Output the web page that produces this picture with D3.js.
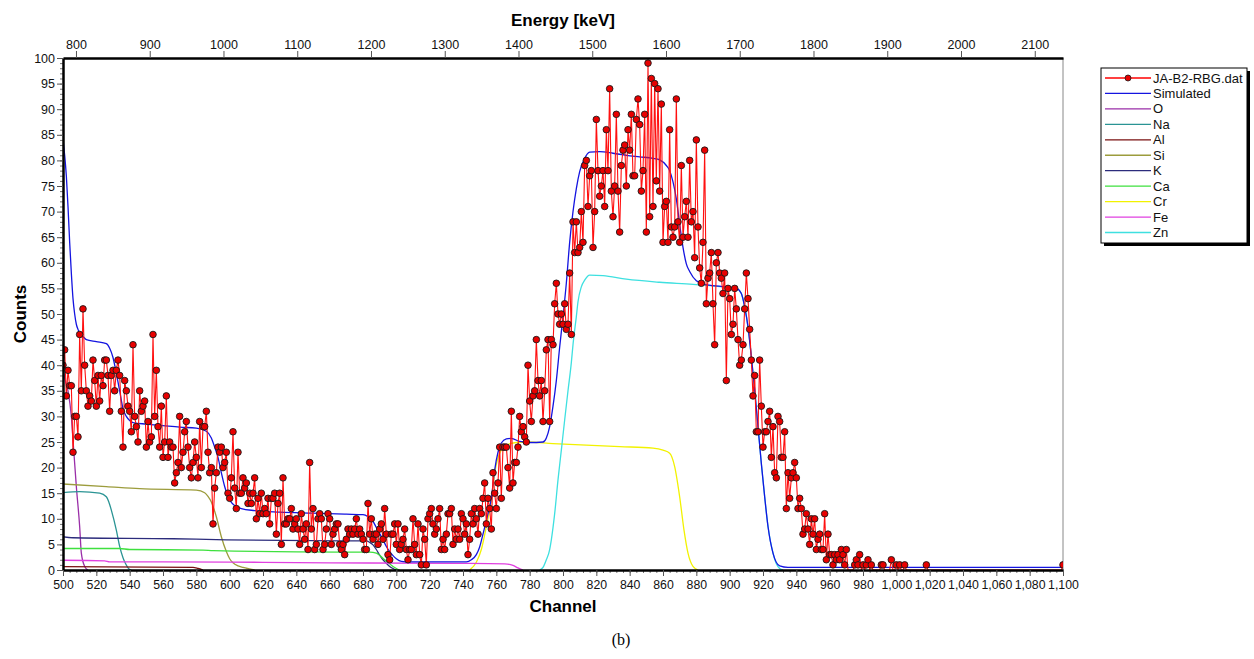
<html lang="en">
<head>
<meta charset="UTF-8">
<title>Spectrum</title>
<script src="https://cdn.jsdelivr.net/npm/d3@7/dist/d3.min.js"></script>
<style>
  body { margin: 0; background: #fff; }
  text { font-family: "Liberation Sans", Arial, sans-serif; }
</style>
</head>
<body>
<script>
// measured counts, one value per channel starting at channel 500
const firstChannel = 500
const counts = [
  40, 43, 34, 39, 36, 36, 23, 30, 30, 26, 46, 35, 51, 40, 35, 32, 34, 33, 41, 37,
  32, 38, 33, 38, 36, 41, 41, 38, 31, 38, 39, 35, 39, 41, 38, 31, 24, 37, 35, 32,
  31, 27, 44, 30, 28, 25, 35, 31, 32, 33, 24, 29, 25, 26, 46, 30, 39, 28, 24, 32,
  22, 25, 34, 22, 25, 24, 24, 17, 19, 21, 30, 20, 23, 27, 29, 24, 20, 18, 21, 25,
  22, 18, 29, 20, 28, 28, 31, 23, 19, 20, 9, 16, 19, 24, 23, 24, 20, 21, 23, 15,
  14, 18, 27, 16, 12, 23, 15, 15, 18, 16, 17, 13, 15, 13, 15, 18, 10, 14, 11, 15,
  11, 12, 11, 14, 9, 14, 14, 15, 7, 13, 15, 5, 18, 9, 9, 10, 10, 12, 8, 9,
  10, 8, 5, 11, 8, 6, 9, 4, 21, 8, 12, 4, 5, 10, 11, 10, 4, 5, 8, 11,
  10, 5, 7, 8, 9,
  // 665
  9, 5, 4, 5, 3, 6, 8, 7, 8, 7, 8, 10, 7, 8, 7, 6, 4, 4, 13, 7,
  10, 6, 7, 7, 5, 8, 9, 6, 12, 7, 3, 2, 7, 7, 9, 5, 9, 4, 5, 6,
  8, 4, 2, 4, 4, 10, 5, 3, 9, 3, 1, 8, 6, 1, 10, 11, 12, 9, 7, 8,
  10, 12, 4, 6, 4, 7, 11, 11, 12, 5, 8, 6, 8, 6, 11, 10, 7, 9, 3,
  // 744
  6, 11, 9, 12, 10, 7, 12, 11, 14, 17, 9, 14, 12, 8, 19, 15, 12, 17, 24, 14,
  24, 24, 24, 20, 16, 31, 17, 21, 21, 24, 30, 27, 28, 26, 25, 40, 33, 29, 34, 35,
  45, 37, 34, 37, 29, 35, 43, 45, 29, 45, 44, 52, 56, 50, 48, 50, 48, 52, 47, 48,
  58, 46,
  // 806
  68, 62, 68, 62, 63, 70, 64, 79, 80, 71, 77, 78, 63, 70, 88, 78, 73, 75, 78, 71,
  86, 78, 94, 74, 69, 75, 89, 74, 66, 79, 82, 83, 75, 86, 82, 89, 77, 77, 88, 92,
  87, 74, 78, 89, 66, 99, 69, 96, 71, 95, 76, 94, 74, 91, 64, 71, 72, 64, 86, 67,
  65, 67, 92, 68, 64, 79, 65, 69, 72, 65, 80, 68, 70, 61, 84, 67,
  // 882
  59, 56, 64, 82, 52, 57, 58, 62, 52, 44, 60, 62, 58, 57, 54, 58, 37, 55, 53, 46,
  48, 55, 51, 45, 40, 41, 44, 51, 58, 53, 47, 41, 34, 38, 27, 27, 41, 32, 24, 27,
  27, 29, 31, 22, 28, 19, 18, 30, 29, 22, 22, 27, 12, 19, 14, 18, 19, 21, 18, 12,
  14, 12, 7, 8, 11, 8, 5, 10, 7, 10, 4, 6, 7, 4, 4, 11, 2, 7, 3, 3,
  1, 3, 2, 3, 2, 4, 3, 1, 4,
  // 971
  0, 0, 0, 0, 1, 2, 1, 3, 0, 1, 0, 1, 2, 0, 1, 0, 0, 0, 0, 0,
  1, 1, 0, 0, 0, 0, 2, 0, 0, 1, 0, 1, 0, 0, 1
]
// sparse end of the spectrum
const tailChannels = [1006, 1017, 1018, 1019, 1099, 1100]
const tailCounts = [0, 0, 1, 0, 0, 1]

// fitted curves, read as (channel, counts) samples
const simChannels = [500, 501, 502, 503, 504, 505, 506, 507, 508, 509, 510, 512, 514, 520, 526, 528, 530, 532, 534, 536, 538, 540, 542, 550, 560, 570, 580, 586, 589, 591, 593, 595, 597, 599, 601, 603, 607, 615, 630, 650, 670, 680, 683, 686, 688, 690, 692, 694, 696, 698, 700, 703, 708, 720, 742, 745, 748, 750, 752, 755, 757, 759, 761, 763, 766, 769, 774, 780, 788, 790, 792, 794, 796, 798, 800, 802, 804, 806, 808, 810, 813, 816, 822, 830, 838, 846, 854, 858, 862, 864, 866, 868, 870, 872, 874, 876, 880, 885, 895, 904, 907, 909, 911, 913, 915, 917, 919, 921, 923, 926, 930, 935, 1100]
const simCounts = [84, 81, 77, 71, 64, 58, 53, 50, 48, 47, 46.3, 45.6, 45, 44.6, 44.2, 43.3, 41.5, 38.4, 35, 31.5, 30, 29.2, 28.8, 28.5, 28.2, 27.9, 27.7, 27.1, 25.8, 24, 22, 19, 16.3, 14.3, 13.2, 12.6, 12, 11.6, 11.3, 11.1, 10.9, 10.8, 10.4, 9.5, 8.3, 7.1, 5.9, 4.6, 3.6, 2.8, 2.2, 1.7, 1.6, 1.6, 1.6, 2, 3, 4.5, 7, 11, 14, 19.5, 23, 24.8, 25.6, 25.7, 25.1, 24.9, 25, 25.8, 28, 32, 37, 43.5, 49.5, 56, 64, 70, 74.5, 77.8, 80.4, 81.6, 81.7, 81.4, 81, 80.7, 80.4, 80.1, 79, 78, 75.8, 72.5, 67.5, 63, 59.8, 58.3, 56.5, 55.8, 55.4, 55, 54, 51.4, 47.5, 41.7, 35.2, 28, 20.8, 14.3, 8.5, 3.3, 0.8, 0.5, 0.5]

const oChannels = [500, 501, 503, 505, 506, 508, 510, 511, 513, 515]
const oCounts = [39.7, 37.5, 35, 30, 25.4, 16.3, 8.5, 3.3, 0.7, 0]
const naChannels = [500, 510, 522, 526, 528, 529, 532, 534, 536, 537, 540, 541]
const naCounts = [15.1, 15.3, 15, 14.3, 12.8, 11.7, 7.8, 4.6, 2.4, 1.6, 0.1, 0]
const alChannels = [500, 578, 581, 584]
const alCounts = [0.65, 0.5, 0.3, 0]
const siChannels = [500, 526, 546, 580, 585, 587, 589, 592, 595, 598, 600, 602, 605, 608, 612, 615]
const siCounts = [16.8, 16.3, 15.9, 15.6, 15.1, 14.4, 13.3, 10.4, 6.5, 3.6, 2.2, 1.4, 0.8, 0.5, 0.2, 0]
const kChannels = [500, 506, 566, 598, 666, 682, 684, 686, 688, 690, 692, 694, 696, 698, 700]
const kCounts = [6.5, 6.3, 6.1, 5.9, 5.7, 5.7, 5.4, 4.9, 4, 2.9, 2, 1.3, 0.7, 0.3, 0]
const caChannels = [500, 534, 540, 584, 590, 666, 684, 688, 690, 692, 694, 696, 698, 700, 702]
const caCounts = [4.2, 4.2, 4, 3.9, 3.8, 3.5, 3.5, 3.3, 2.9, 2.3, 1.7, 1.2, 0.7, 0.3, 0]
const crChannels = [744, 748, 751, 754, 757, 759, 762, 766, 772, 778, 794, 814, 834, 854, 860, 864, 867, 870, 872.6, 875, 878, 881]
const crCounts = [0, 1.5, 4, 8.5, 13.7, 18.9, 22.8, 24.4, 24.9, 25, 24.7, 24.4, 24.1, 23.8, 23.4, 22.8, 20.2, 14.3, 7.8, 3.3, 0.7, 0]
const feChannels = [500, 525, 528, 560, 620, 660, 740, 765, 770, 773, 776]
const feCounts = [1.9, 1.8, 1.6, 1.6, 1.5, 1.4, 1.3, 1.2, 0.9, 0.4, 0]
const znChannels = [786, 788, 790, 792, 793, 795, 797, 799, 801, 803, 805, 806, 808, 809, 811, 813, 816, 824, 838, 858, 878, 896, 904, 907, 909, 911, 913, 915, 917, 919, 921, 923, 926, 928, 930, 932]
const znCounts = [0, 0.5, 2, 4, 5.9, 11, 17.6, 23.4, 29.3, 35, 40.5, 44, 49.5, 52.4, 55.3, 56.6, 57.6, 57.5, 56.8, 56.2, 55.8, 55.3, 55, 54, 51.4, 47.5, 41.7, 35.2, 28, 20.8, 14.3, 8.5, 3.3, 1.2, 0.3, 0]

const yTicks = [0, 5, 10, 15, 20, 25, 30, 35, 40, 45, 50, 55, 60, 65, 70, 75, 80, 85, 90, 95, 100]
const channelTicks = [500, 520, 540, 560, 580, 600, 620, 640, 660, 680, 700, 720, 740, 760, 780, 800, 820, 840, 860, 880, 900, 920, 940, 960, 980, 1000, 1020, 1040, 1060, 1080, 1100]
const energyTicks = [800, 900, 1000, 1100, 1200, 1300, 1400, 1500, 1600, 1700, 1800, 1900, 2000, 2100]
const energyDomain = [782.4, 2138.3]

const legendNames = ['JA-B2-RBG.dat', 'Simulated', 'O', 'Na', 'Al', 'Si', 'K', 'Ca', 'Cr', 'Fe', 'Zn']
const legendColors = ['#ff0000', '#1414e0', '#9a2ea8', '#2a9494', '#7a1010', '#9c9c3c', '#2c2c7c', '#3ee03e', '#f2f200', '#e040e0', '#3ee0e0']

const W = 1254, H = 659
const pLeft = 63, pRight = 1063, pTop = 58, pBottom = 570

const svg = d3.select('body').append('svg')
  .attr('width', W)
  .attr('height', H)

const x = d3.scaleLinear().domain([500, 1100]).range([pLeft, pRight])
const y = d3.scaleLinear().domain([0, 100]).range([pBottom, pTop])
const xE = d3.scaleLinear().domain(energyDomain).range([pLeft, pRight])

svg.append('clipPath').attr('id', 'plot')
  .append('rect').attr('x', pLeft).attr('y', pTop).attr('width', pRight - pLeft).attr('height', pBottom - pTop)

// right frame line
svg.append('line')
  .attr('x1', pRight).attr('x2', pRight).attr('y1', pTop).attr('y2', pBottom)
  .attr('stroke', '#888').attr('stroke-width', 1)

const plot = svg.append('g').attr('clip-path', 'url(#plot)')

const line = d3.line()
  .x(d => x(d[0]))
  .y(d => y(d[1]))
  .curve(d3.curveMonotoneX)

const components = [
  [oChannels, oCounts, 2],
  [naChannels, naCounts, 3],
  [alChannels, alCounts, 4],
  [siChannels, siCounts, 5],
  [kChannels, kCounts, 6],
  [caChannels, caCounts, 7],
  [crChannels, crCounts, 8],
  [feChannels, feCounts, 9],
  [znChannels, znCounts, 10]
]
for (let [chs, vals, ci] of components) {
  plot.append('path')
    .datum(chs.map((c, i) => [c, vals[i]]))
    .attr('d', line)
    .attr('fill', 'none')
    .attr('stroke', legendColors[ci])
    .attr('stroke-width', 1.3)
}

plot.append('path')
  .datum(simChannels.map((c, i) => [c, simCounts[i]]))
  .attr('d', line)
  .attr('fill', 'none')
  .attr('stroke', legendColors[1])
  .attr('stroke-width', 1.3)

// measured data
let measured = counts.map((v, i) => [firstChannel + i, v])
  .concat(tailChannels.map((c, i) => [c, tailCounts[i]]))

plot.append('path')
  .datum(measured)
  .attr('d', d3.line().x(d => x(d[0])).y(d => y(d[1])))
  .attr('fill', 'none')
  .attr('stroke', '#ff1010')
  .attr('stroke-width', 1.1)
  .attr('stroke-linejoin', 'round')

plot.append('g')
  .selectAll('circle')
  .data(measured.filter(d => d[1] > 0))
  .enter().append('circle')
  .attr('cx', d => x(d[0]))
  .attr('cy', d => y(d[1]))
  .attr('r', 3.3)
  .attr('fill', '#e80000')
  .attr('stroke', '#1a1a1a')
  .attr('stroke-width', 0.9)

// axes
function styleAxis(g, width, size) {
  g.select('.domain').attr('stroke', '#000').attr('stroke-width', width)
  g.selectAll('.tick line').attr('stroke', '#555')
  g.selectAll('.tick text')
    .attr('fill', '#111')
    .style('font-size', size)
    .style('font-family', '"Liberation Sans", Arial, sans-serif')
}

// minor ticks
svg.append('g')
  .attr('transform', `translate(${pLeft},0)`)
  .call(d3.axisLeft(y).tickValues(d3.range(0, 101, 1)).tickSize(3).tickFormat('').tickSizeOuter(0))
  .call(g => g.select('.domain').remove())
  .call(g => g.selectAll('.tick line').attr('stroke', '#777'))
svg.append('g')
  .attr('transform', `translate(0,${pBottom})`)
  .call(d3.axisBottom(x).tickValues(d3.range(500, 1101, 4)).tickSize(3).tickFormat('').tickSizeOuter(0))
  .call(g => g.select('.domain').remove())
  .call(g => g.selectAll('.tick line').attr('stroke', '#777'))

svg.append('g')
  .attr('transform', `translate(${pLeft},0)`)
  .call(d3.axisLeft(y).tickValues(yTicks).tickSize(6).tickPadding(2).tickSizeOuter(0))
  .call(g => styleAxis(g, 2.5, '12.5px'))

svg.append('g')
  .attr('transform', `translate(0,${pBottom})`)
  .call(d3.axisBottom(x).tickValues(channelTicks).tickSize(6).tickPadding(4).tickFormat(d3.format(',')).tickSizeOuter(0))
  .call(g => styleAxis(g, 2.5, '12.3px'))

svg.append('g')
  .attr('transform', `translate(0,${pTop})`)
  .call(d3.axisTop(xE).tickValues(energyTicks).tickSize(7).tickPadding(2).tickFormat(d3.format('d')).tickSizeOuter(0))
  .call(g => styleAxis(g, 2.5, '12.5px'))

// titles
svg.append('text')
  .attr('x', (pLeft + pRight) / 2).attr('y', 26)
  .attr('text-anchor', 'middle')
  .style('font-size', '17px').style('font-weight', 'bold')
  .text('Energy [keV]')
svg.append('text')
  .attr('x', (pLeft + pRight) / 2).attr('y', 612)
  .attr('text-anchor', 'middle')
  .style('font-size', '17px').style('font-weight', 'bold')
  .text('Channel')
svg.append('text')
  .attr('transform', `translate(26,${(pTop + pBottom) / 2}) rotate(-90)`)
  .attr('text-anchor', 'middle')
  .style('font-size', '17px').style('font-weight', 'bold')
  .text('Counts')
svg.append('text')
  .attr('x', 621).attr('y', 645)
  .attr('text-anchor', 'middle')
  .style('font-size', '16px')
  .style('font-family', '"Liberation Serif", "DejaVu Serif", serif')
  .text('(b)')

// legend
const lg = svg.append('g').attr('transform', 'translate(1101,68)')
lg.append('rect').attr('x', 3).attr('y', 3).attr('width', 146).attr('height', 175).attr('fill', '#000')
lg.append('rect').attr('x', 0).attr('y', 0).attr('width', 146).attr('height', 175)
  .attr('fill', '#fff').attr('stroke', '#000').attr('stroke-width', 1)
legendNames.forEach((name, i) => {
  let ly = 10 + i * 15.45
  lg.append('line')
    .attr('x1', 4).attr('x2', 50).attr('y1', ly).attr('y2', ly)
    .attr('stroke', legendColors[i]).attr('stroke-width', 1.3)
  if (i === 0) {
    lg.append('circle').attr('cx', 27).attr('cy', ly).attr('r', 3)
      .attr('fill', '#e80000').attr('stroke', '#1a1a1a').attr('stroke-width', 0.8)
  }
  lg.append('text')
    .attr('x', 52).attr('y', ly + 4.5)
    .style('font-size', '13px')
    .attr('fill', '#111')
    .text(name)
})
</script>
</body>
</html>
